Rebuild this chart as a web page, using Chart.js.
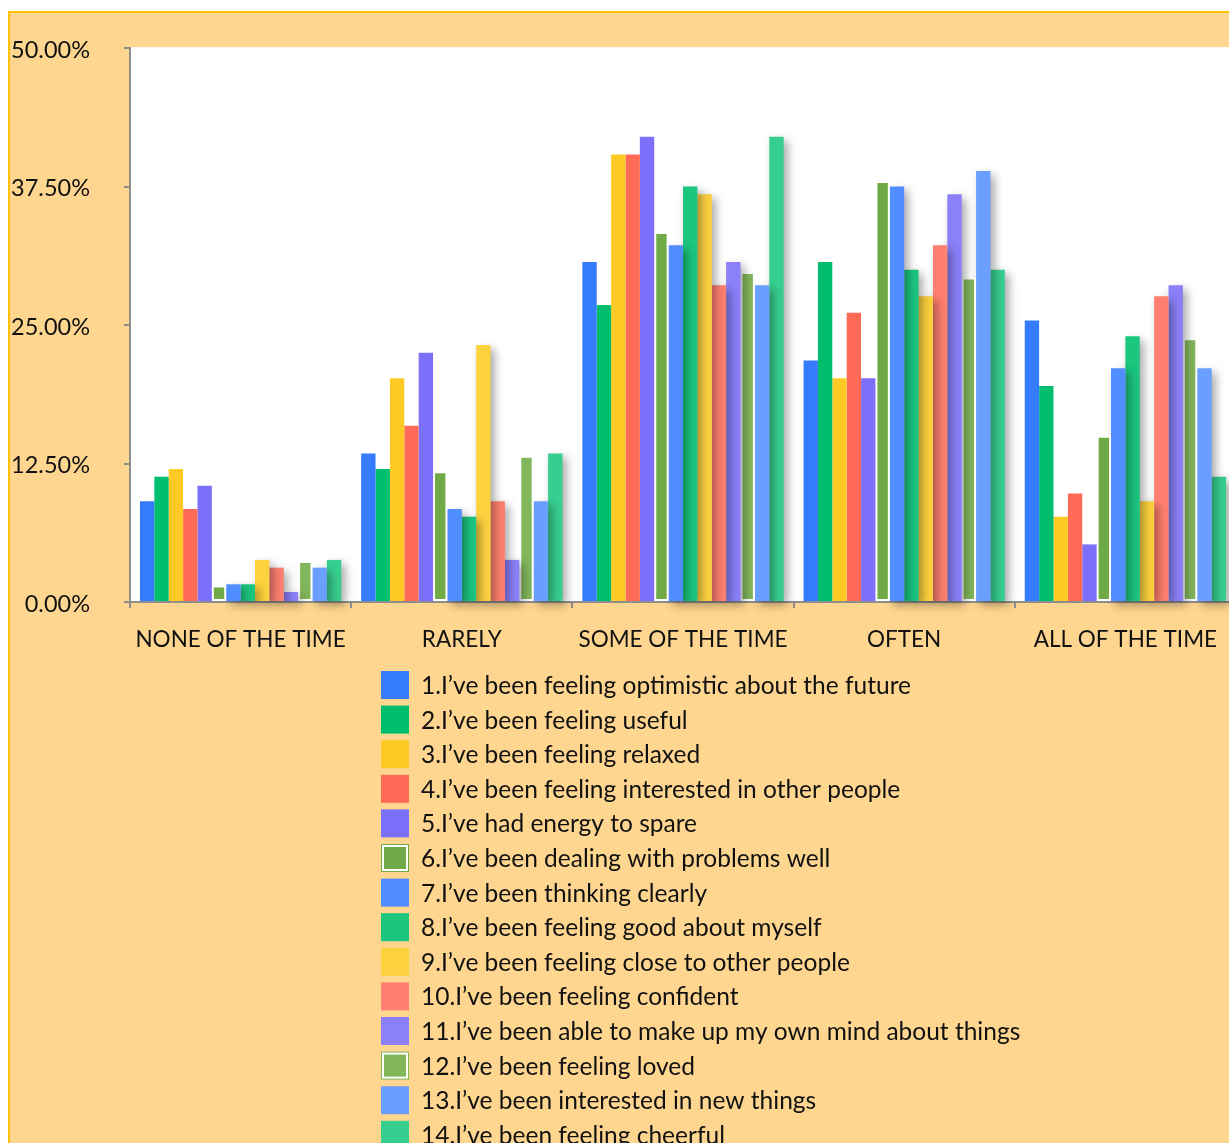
<!DOCTYPE html>
<html><head><meta charset="utf-8">
<script src="https://cdn.jsdelivr.net/npm/chart.js@4.4.1/dist/chart.umd.min.js"></script>
<style>
html,body{margin:0;padding:0;overflow:hidden;background:#fff;width:1229px;height:1143px}
canvas{display:block}
</style></head>
<body>
<canvas id="c" width="1240" height="1143"></canvas>
<script>
const categories = ['NONE OF THE TIME', 'RARELY', 'SOME OF THE TIME', 'OFTEN', 'ALL OF THE TIME'];
const seriesNames = [
  '1.I\u2019ve been feeling optimistic about the future',
  '2.I\u2019ve been feeling useful',
  '3.I\u2019ve been feeling relaxed',
  '4.I\u2019ve been feeling interested in other people',
  '5.I\u2019ve had energy to spare',
  '6.I\u2019ve been dealing with problems well',
  '7.I\u2019ve been thinking clearly',
  '8.I\u2019ve been feeling good about myself',
  '9.I\u2019ve been feeling close to other people',
  '10.I\u2019ve been feeling confident',
  '11.I\u2019ve been able to make up my own mind about things',
  '12.I\u2019ve been feeling loved',
  '13.I\u2019ve been interested in new things',
  '14.I\u2019ve been feeling cheerful'
];
// values in % per category: NONE, RARELY, SOME, OFTEN, ALL
const q1  = [9.1, 13.4, 30.7, 21.8, 25.4];
const q2  = [11.3, 12.0, 26.8, 30.7, 19.5];
const q3  = [12.0, 20.2, 40.4, 20.2, 7.7];
const q4  = [8.4, 15.9, 40.4, 26.1, 9.8];
const q5  = [10.5, 22.5, 42.0, 20.2, 5.2];
const q6  = [1.5, 11.8, 33.4, 38.0, 15.0];
const q7  = [1.6, 8.4, 32.2, 37.5, 21.1];
const q8  = [1.6, 7.7, 37.5, 30.0, 24.0];
const q9  = [3.8, 23.2, 36.8, 27.6, 9.1];
const q10 = [3.1, 9.1, 28.6, 32.2, 27.6];
const q11 = [0.9, 3.8, 30.7, 36.8, 28.6];
const q12 = [3.7, 13.2, 29.8, 29.3, 23.8];
const q13 = [3.1, 9.1, 28.6, 38.9, 21.1];
const q14 = [3.8, 13.4, 42.0, 30.0, 11.3];
const yTicks = [0, 12.5, 25, 37.5, 50];

const seriesValues = [q1,q2,q3,q4,q5,q6,q7,q8,q9,q10,q11,q12,q13,q14];
const colors = ['#357BFE','#00BE6E','#FFCA25','#FF6B57','#7C6FF9','#6FAA46','#508DFF','#1BC67F','#FDD23F','#FF8070','#8B80FA','#82B65B','#6A9EFF','#37CF8F'];
const framed = [5, 11];
const FAMILY = 'Lato, "Open Sans", sans-serif';
const LEGEND_FONT = {family: FAMILY, size: 24.5};
const YFONT = {family: FAMILY, size: 23.5};
const XFONT = {family: FAMILY, size: 22.5};

const datasets = seriesValues.map((vals, i) => ({
  label: seriesNames[i],
  data: vals,
  backgroundColor: colors[i],
  borderColor: framed.includes(i) ? '#FFFFFF' : colors[i],
  borderWidth: framed.includes(i) ? 2 : 0,
  borderSkipped: false,
  clip: false
}));

const bgPlugin = {
  id: 'bg',
  beforeDraw(chart) {
    const {ctx, chartArea: a} = chart;
    ctx.save();
    ctx.fillStyle = '#FFFFFF';
    ctx.fillRect(0, 0, chart.width, chart.height);
    ctx.fillStyle = '#FED690';
    ctx.fillRect(9, 12, chart.width, chart.height);
    ctx.strokeStyle = '#FFC000';
    ctx.lineWidth = 2;
    ctx.beginPath();
    ctx.moveTo(9, chart.height); ctx.lineTo(9, 12); ctx.lineTo(chart.width, 12);
    ctx.stroke();
    ctx.fillStyle = '#FFFFFF';
    ctx.fillRect(a.left, a.top - 1, chart.width - a.left, a.bottom - a.top + 1);
    ctx.restore();
  }
};

const shadowPlugin = {
  id: 'shadow',
  beforeDatasetDraw(chart, args) {
    if (args.index >= 6 && !framed.includes(args.index)) {
      const c = chart.ctx;
      c.save();
      c.shadowColor = 'rgba(0,0,0,0.35)';
      c.shadowBlur = 10;
      c.shadowOffsetX = 4;
      c.shadowOffsetY = 4;
    }
  },
  afterDatasetDraw(chart, args) {
    if (args.index >= 6 && !framed.includes(args.index)) chart.ctx.restore();
  }
};

const legendPlugin = {
  id: 'listLegend',
  afterDraw(chart) {
    const ctx = chart.ctx;
    ctx.save();
    ctx.font = LEGEND_FONT.size + 'px ' + LEGEND_FONT.family;
    ctx.textBaseline = 'middle';
    ctx.textAlign = 'left';
    chart.data.datasets.forEach((ds, i) => {
      const cy = 685 + i * 34.6;
      const bx = 381, by = cy - 14, s = 28;
      if (framed.includes(i)) {
        ctx.fillStyle = ds.backgroundColor;
        ctx.fillRect(bx, by, s, s);
        ctx.fillStyle = '#FFFFFF';
        ctx.fillRect(bx + 1, by + 1, s - 2, s - 2);
        ctx.fillStyle = ds.backgroundColor;
        ctx.fillRect(bx + 3, by + 3, s - 6, s - 6);
      } else {
        ctx.fillStyle = ds.backgroundColor;
        ctx.fillRect(bx, by, s, s);
      }
      ctx.fillStyle = '#111111';
      ctx.fillText(ds.label, 421, cy + 1);
    });
    ctx.restore();
  }
};

new Chart(document.getElementById('c'), {
  type: 'bar',
  data: { labels: categories, datasets },
  plugins: [bgPlugin, shadowPlugin, legendPlugin],
  options: {
    responsive: false,
    animation: false,
    layout: { padding: { left: 11, top: 43, right: 4, bottom: 0 } },
    datasets: { bar: { barPercentage: 1, categoryPercentage: 0.91 } },
    plugins: { legend: { display: false }, tooltip: { enabled: false } },
    scales: {
      x: {
        z: 1,
        grid: { offset: true, drawOnChartArea: false, drawTicks: true, tickLength: 6, color: '#8E8E8E', lineWidth: 2 },
        border: { color: '#8E8E8E', width: 2 },
        ticks: { font: XFONT, color: '#111111', padding: 18, maxRotation: 0, autoSkip: false },
        afterFit(s) { s.height = 1143 - 602; }
      },
      y: {
        z: 1,
        min: 0, max: 50,
        afterBuildTicks(s) { s.ticks = yTicks.map(v => ({ value: v })); },
        grid: { drawOnChartArea: false, drawTicks: true, tickLength: 6, color: '#8E8E8E', lineWidth: 2 },
        border: { color: '#8E8E8E', width: 2 },
        ticks: { font: YFONT, color: '#111111', padding: 34, labelOffset: 2, crossAlign: 'near', callback: v => Number(v).toFixed(2) + '%' },
        afterFit(s) { s.width = 119; }
      }
    }
  }
});
</script>
</body></html>
